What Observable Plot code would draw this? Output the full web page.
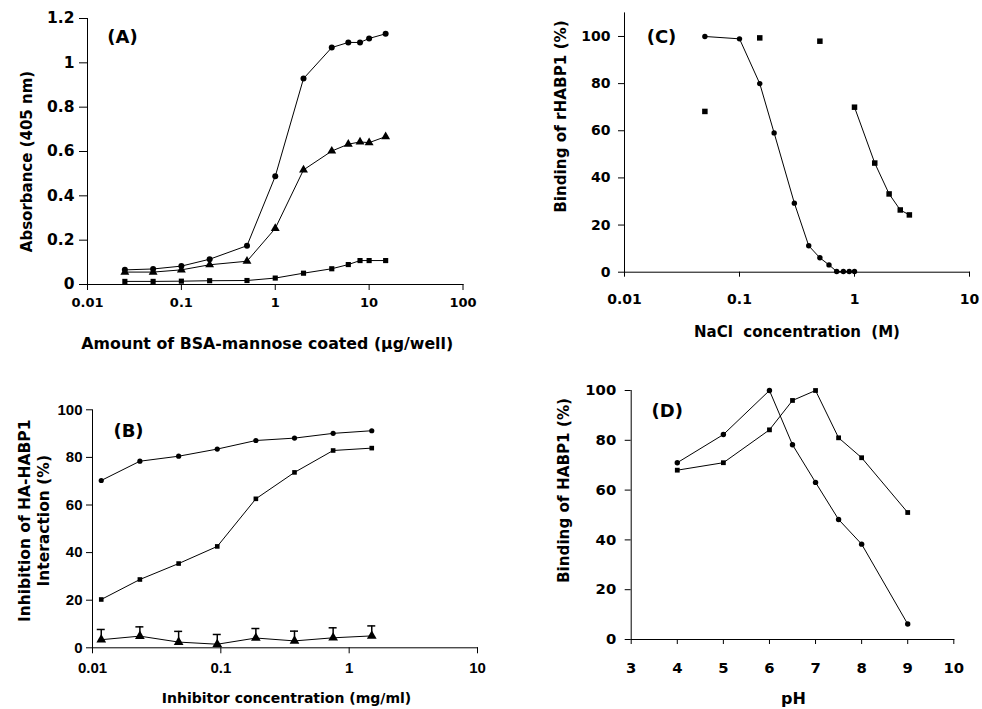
<!DOCTYPE html>
<html>
<head>
<meta charset="utf-8">
<script src="https://cdn.jsdelivr.net/npm/d3@7"></script>
<script src="https://cdn.jsdelivr.net/npm/@observablehq/plot@0.6"></script>
<style>
  html, body { margin: 0; padding: 0; background: #fff; }
  #page { position: relative; width: 982px; height: 709px; overflow: hidden; background: #fff; }
  .panel { position: absolute; }
  #page svg text { font-weight: 700; }
  #panelA g[aria-label="y-axis tick label"] { font-size: 15.5px; }
</style>
</head>
<body>
<div id="page"></div>
<script>
// ---------- Panel A ----------
const aDose = [0.025, 0.05, 0.1, 0.2, 0.5, 1, 2, 4, 6, 8, 10, 15];
const aCircle = [0.066, 0.07, 0.083, 0.114, 0.175, 0.488, 0.929, 1.069, 1.092, 1.092, 1.11, 1.131];
const aTriangle = [0.056, 0.056, 0.066, 0.089, 0.105, 0.253, 0.517, 0.602, 0.633, 0.643, 0.64, 0.667];
const aSquare = [0.014, 0.014, 0.015, 0.017, 0.018, 0.029, 0.051, 0.071, 0.09, 0.108, 0.108, 0.108];
const aXTicks = [0.01, 0.1, 1, 10, 100];
const aYTicks = [0, 0.2, 0.4, 0.6, 0.8, 1, 1.2];

// ---------- Panel B ----------
const bConc = [0.0117, 0.0234, 0.0469, 0.0938, 0.1875, 0.375, 0.75, 1.5];
const bCircle = [70.3, 78.4, 80.5, 83.5, 87.1, 88.1, 90.1, 91.2];
const bSquare = [20.3, 28.7, 35.4, 42.6, 62.6, 73.7, 82.9, 83.9];
const bTriangle = [3.4, 4.9, 2.4, 1.5, 4.1, 2.9, 4.2, 5.0];
const bTriangleErr = [4.3, 3.9, 4.5, 4.1, 4.0, 4.1, 4.2, 4.2];
const bXTicks = [0.01, 0.1, 1, 10];
const bYTicks = [0, 20, 40, 60, 80, 100];

// ---------- Panel C ----------
const cNaCl = [0.05, 0.1, 0.15, 0.2, 0.3, 0.4, 0.5, 0.6, 0.7, 0.8, 0.9, 1.0];
const cCircle = [100, 99, 80, 59.1, 29.3, 11.2, 6.1, 3.1, 0.3, 0.3, 0.3, 0.3];
const cSquareLooseX = [0.05, 0.15, 0.5];
const cSquareLooseY = [68.2, 99.4, 98];
const cSquareLineX = [1, 1.5, 2, 2.5, 3];
const cSquareLineY = [70, 46.3, 33.2, 26.4, 24.3];
const cXTicks = [0.01, 0.1, 1, 10];
const cYTicks = [0, 20, 40, 60, 80, 100];

// ---------- Panel D ----------
const dPH = [4, 5, 6, 6.5, 7, 7.5, 8, 9];
const dCircle = [71, 82.3, 100, 78.2, 63.1, 48.2, 38.3, 6.2];
const dSquare = [68, 71, 84.2, 96, 100, 81, 73, 51];
const dXTicks = [3, 4, 5, 6, 7, 8, 9, 10];
const dYTicks = [0, 20, 40, 60, 80, 100];

// ---------- Texts ----------
const aXTitle = "Amount of BSA-mannose coated (\u00b5g/well)";
const aYTitle = "Absorbance (405 nm)";
const bXTitle = "Inhibitor concentration (mg/ml)";
const bYTitle = "Inhibition of HA-HABP1\nInteraction (%)";
const cXTitle = "NaCl\u00a0 concentration\u00a0 (M)";
const cYTitle = "Binding of rHABP1 (%)";
const dXTitle = "pH";
const dYTitle = "Binding of HABP1 (%)";
const panelTags = ["(A)", "(B)", "(C)", "(D)"];

const WIDE = "'DejaVu Sans', Verdana, sans-serif";
const NARROW = "'Liberation Sans', Arial, Helvetica, sans-serif";
const zip = (xs, ys) => xs.map((x, i) => ({x, y: ys[i]}));
const fmt = d => String(d);

function place(svg, left, top, id) {
  svg.classList.add("panel");
  svg.id = id;
  svg.style.left = left + "px";
  svg.style.top = top + "px";
  document.getElementById("page").appendChild(svg);
}

function titles({xTitle, yTitle, tag, xdx, xdy, ydx, ydy, tdx, tdy, xfs, yfs, tagFs, lh}) {
  const common = {text: d => d, fontWeight: "bold", fill: "black", fontFamily: WIDE, textAnchor: "middle", lineAnchor: "middle"};
  return [
    Plot.text([xTitle], {...common, frameAnchor: "bottom", dx: xdx, dy: xdy, fontSize: xfs}),
    Plot.text([yTitle], {...common, frameAnchor: "left", rotate: -90, dx: ydx, dy: ydy, fontSize: yfs, lineHeight: lh || 1.2}),
    Plot.text([tag], {...common, frameAnchor: "top-left", dx: tdx, dy: tdy, fontSize: tagFs})
  ];
}

// ---------- Plot A ----------
{
  const c = zip(aDose, aCircle), t = zip(aDose, aTriangle), s = zip(aDose, aSquare);
  const svg = Plot.plot({
    width: 490, height: 360,
    marginLeft: 87, marginRight: 27.5, marginTop: 18, marginBottom: 76,
    style: {fontFamily: WIDE, fontWeight: "bold", fontSize: "13px", color: "black", background: "white", overflow: "visible"},
    x: {type: "log", domain: [0.01, 100], ticks: aXTicks, tickFormat: fmt, tickSize: 6, tickPadding: 7, label: null, line: true},
    y: {domain: [0, 1.2], ticks: aYTicks, tickFormat: fmt, tickSize: 8, tickPadding: 5, label: null, line: true},
    marks: [
      Plot.line(c, {x: "x", y: "y", stroke: "black", strokeWidth: 1}),
      Plot.line(t, {x: "x", y: "y", stroke: "black", strokeWidth: 1}),
      Plot.line(s, {x: "x", y: "y", stroke: "black", strokeWidth: 1}),
      Plot.dot(c, {x: "x", y: "y", r: 3, fill: "black", symbol: "circle"}),
      Plot.dot(t, {x: "x", y: "y", r: 3.3, fill: "black", symbol: "triangle"}),
      Plot.dot(s, {x: "x", y: "y", r: 2.9, fill: "black", symbol: "square"}),
      ...titles({xTitle: aXTitle, yTitle: aYTitle, tag: panelTags[0],
        xdx: -8, xdy: 59, ydx: -61, ydy: 10, tdx: 35, tdy: 19, xfs: 15.8, yfs: 15, tagFs: 18})
    ]
  });
  place(svg, 0, 0, "panelA");
}

// ---------- Plot B ----------
{
  const c = zip(bConc, bCircle), s = zip(bConc, bSquare);
  const t = bConc.map((x, i) => ({x, y: bTriangle[i], top: bTriangle[i] + bTriangleErr[i]}));
  const svg = Plot.plot({
    width: 490, height: 349,
    marginLeft: 92, marginRight: 13, marginTop: 49.3, marginBottom: 61.7,
    style: {fontFamily: NARROW, fontWeight: "bold", fontSize: "15px", color: "black", background: "white", overflow: "visible"},
    x: {type: "log", domain: [0.01, 10], ticks: bXTicks, tickFormat: fmt, tickSize: 6, tickPadding: 9, label: null, line: true},
    y: {domain: [0, 100], ticks: bYTicks, tickFormat: fmt, tickSize: 6, tickPadding: 4, label: null, line: true},
    marks: [
      Plot.ruleX(t, {x: "x", y1: "y", y2: "top", stroke: "black", strokeWidth: 1.5}),
      Plot.ruleY(t, {x1: "x", x2: "x", y: "top", insetLeft: -4, insetRight: -4, stroke: "black", strokeWidth: 1.5}),
      Plot.line(c, {x: "x", y: "y", stroke: "black", strokeWidth: 1}),
      Plot.line(s, {x: "x", y: "y", stroke: "black", strokeWidth: 1}),
      Plot.line(t, {x: "x", y: "y", stroke: "black", strokeWidth: 1}),
      Plot.dot(c, {x: "x", y: "y", r: 2.6, fill: "black", symbol: "circle"}),
      Plot.dot(s, {x: "x", y: "y", r: 2.6, fill: "black", symbol: "square"}),
      Plot.dot(t, {x: "x", y: "y", r: 3.6, fill: "black", symbol: "triangle"}),
      ...titles({xTitle: bXTitle, yTitle: bYTitle, tag: panelTags[1],
        xdx: 1.5, xdy: 51, ydx: -59.5, ydy: -8, tdx: 36, tdy: 21, xfs: 14, yfs: 15.5, tagFs: 18, lh: 1.25})
    ]
  });
  place(svg, 0, 360, "panelB");
}

// ---------- Plot C ----------
{
  const c = zip(cNaCl, cCircle), sl = zip(cSquareLooseX, cSquareLooseY), s = zip(cSquareLineX, cSquareLineY);
  const svg = Plot.plot({
    width: 492, height: 360,
    marginLeft: 134, marginRight: 13, marginTop: 12.4, marginBottom: 88.3,
    style: {fontFamily: WIDE, fontWeight: "bold", fontSize: "14px", color: "black", background: "white", overflow: "visible"},
    x: {type: "log", domain: [0.01, 10], ticks: cXTicks, tickFormat: fmt, tickSize: 5, tickPadding: 17, label: null, line: true},
    y: {domain: [0, 110], ticks: cYTicks, tickFormat: fmt, tickSize: 6, tickPadding: 8, label: null, line: true},
    marks: [
      Plot.line(c, {x: "x", y: "y", stroke: "black", strokeWidth: 1}),
      Plot.line(s, {x: "x", y: "y", stroke: "black", strokeWidth: 1}),
      Plot.dot(c, {x: "x", y: "y", r: 2.7, fill: "black", symbol: "circle"}),
      Plot.dot(sl, {x: "x", y: "y", r: 3.1, fill: "black", symbol: "square"}),
      Plot.dot(s, {x: "x", y: "y", r: 3.1, fill: "black", symbol: "square"}),
      ...titles({xTitle: cXTitle, yTitle: cYTitle, tag: panelTags[2],
        xdx: 0, xdy: 60, ydx: -64, ydy: -26, tdx: 37, tdy: 24.6, xfs: 15, yfs: 15.2, tagFs: 18})
    ]
  });
  place(svg, 490, 0, "panelC");
}

// ---------- Plot D ----------
{
  const c = zip(dPH, dCircle), s = zip(dPH, dSquare);
  const svg = Plot.plot({
    width: 492, height: 349,
    marginLeft: 140.7, marginRight: 28.7, marginTop: 30, marginBottom: 70,
    style: {fontFamily: WIDE, fontWeight: "bold", fontSize: "14.8px", color: "black", background: "white", overflow: "visible"},
    x: {domain: [3, 10], ticks: dXTicks, tickFormat: fmt, tickSize: 5, tickPadding: 18, label: null, line: true},
    y: {domain: [0, 100], ticks: dYTicks, tickFormat: fmt, tickSize: 6, tickPadding: 9, label: null, line: true},
    marks: [
      Plot.line(c, {x: "x", y: "y", stroke: "black", strokeWidth: 1}),
      Plot.line(s, {x: "x", y: "y", stroke: "black", strokeWidth: 1}),
      Plot.dot(c, {x: "x", y: "y", r: 2.7, fill: "black", symbol: "circle"}),
      Plot.dot(s, {x: "x", y: "y", r: 2.7, fill: "black", symbol: "square"}),
      ...titles({xTitle: dXTitle, yTitle: dYTitle, tag: panelTags[3],
        xdx: 1, xdy: 59, ydx: -67.7, ydy: -24.5, tdx: 36, tdy: 21, xfs: 16, yfs: 15.2, tagFs: 18})
    ]
  });
  place(svg, 490, 360, "panelD");
}
</script>
</body>
</html>
